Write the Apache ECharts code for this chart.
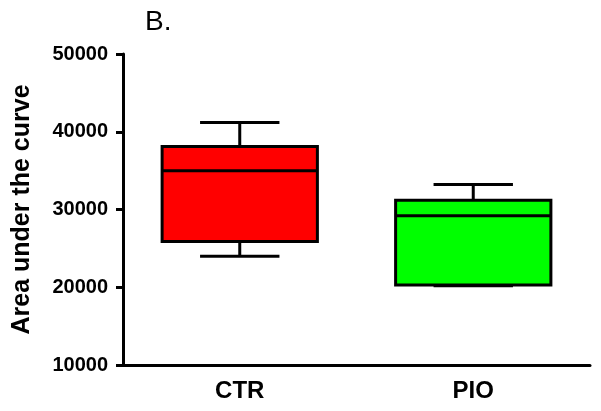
<!DOCTYPE html>
<html>
<head>
<meta charset="utf-8">
<script src="https://cdn.jsdelivr.net/npm/echarts@6/dist/echarts.min.js"></script>
<style>
html,body{margin:0;padding:0;background:#fff;}
#chart{width:601px;height:411px;}
</style>
</head>
<body>
<div id="chart"></div>
<script>
// Data
var categories = ['CTR', 'PIO'];
var whiskerLow = [24000, 20200];
var q1 = [25900, 20300];
var median = [35000, 29200];
var q3 = [38100, 31200];
var whiskerHigh = [41200, 33200];
var boxColors = ['#ff0000', '#00ff00'];
var yTicks = [10000, 20000, 30000, 40000, 50000];

var data = categories.map(function (c, i) {
  return [i, whiskerLow[i], q1[i], median[i], q3[i], whiskerHigh[i]];
});

var chart = echarts.init(document.getElementById('chart'), null, {renderer: 'canvas'});
var FONT = 'Liberation Sans, Arial, sans-serif';

function renderItem(params, api) {
  var idx = api.value(0);
  var band = api.size([1, 0])[0];
  var boxW = band * 0.665;
  var capW = band * 0.34;
  var pLow = api.coord([idx, api.value(1)]);
  var pQ1 = api.coord([idx, api.value(2)]);
  var pMed = api.coord([idx, api.value(3)]);
  var pQ3 = api.coord([idx, api.value(4)]);
  var pHigh = api.coord([idx, api.value(5)]);
  var cx = pQ1[0];
  var lineStyle = {stroke: '#000', lineWidth: 3, fill: null};
  return {
    type: 'group',
    children: [
      {type: 'line', shape: {x1: cx, y1: pHigh[1], x2: cx, y2: pQ3[1]}, style: lineStyle},
      {type: 'line', shape: {x1: cx, y1: pQ1[1], x2: cx, y2: pLow[1]}, style: lineStyle},
      {type: 'line', shape: {x1: cx - capW / 2, y1: pHigh[1], x2: cx + capW / 2, y2: pHigh[1]}, style: lineStyle},
      {type: 'line', shape: {x1: cx - capW / 2, y1: pLow[1], x2: cx + capW / 2, y2: pLow[1]}, style: lineStyle},
      {type: 'rect', shape: {x: cx - boxW / 2, y: pQ3[1], width: boxW, height: pQ1[1] - pQ3[1]},
        style: {fill: boxColors[idx], stroke: '#000', lineWidth: 3}},
      {type: 'line', shape: {x1: cx - boxW / 2, y1: pMed[1], x2: cx + boxW / 2, y2: pMed[1]}, style: lineStyle}
    ]
  };
}

chart.setOption({
  animation: false,
  backgroundColor: '#fff',
  title: {
    text: 'B.',
    left: 140,
    top: 3,
    textStyle: {fontFamily: FONT, fontSize: 28, fontWeight: 'normal', color: '#000'}
  },
  grid: {left: 123, right: 11, top: 54, bottom: 46, containLabel: false},
  xAxis: {
    type: 'category',
    data: categories,
    boundaryGap: true,
    axisLine: {lineStyle: {color: '#000', width: 3}},
    axisTick: {show: false},
    axisLabel: {color: '#000', fontFamily: FONT, fontSize: 24, fontWeight: 'bold', margin: 14},
    splitLine: {show: false}
  },
  yAxis: {
    type: 'value',
    min: yTicks[0],
    max: yTicks[yTicks.length - 1],
    interval: 10000,
    name: 'Area under the curve',
    nameLocation: 'middle',
    nameGap: 88,
    nameTextStyle: {color: '#000', fontFamily: FONT, fontSize: 25, fontWeight: 'bold'},
    axisLine: {show: true, lineStyle: {color: '#000', width: 3}},
    axisTick: {show: true, length: 7, lineStyle: {color: '#000', width: 3}},
    axisLabel: {color: '#000', fontFamily: FONT, fontSize: 20, fontWeight: 'bold', margin: 15,
      formatter: function (v) { return String(v); }},
    splitLine: {show: false}
  },
  series: [{
    type: 'custom',
    renderItem: renderItem,
    encode: {x: 0, y: [1, 2, 3, 4, 5]},
    data: data
  }]
});
</script>
</body>
</html>
